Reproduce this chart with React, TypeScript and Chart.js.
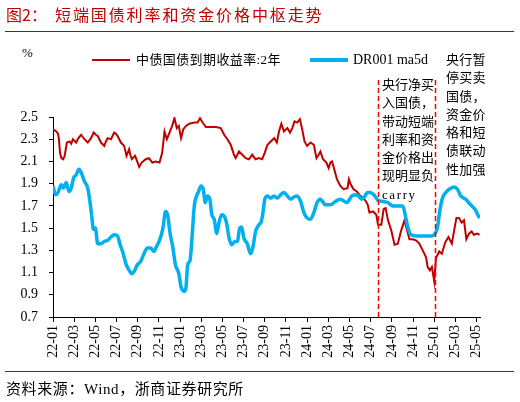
import React, { useEffect, useRef } from 'react';
import { Chart, registerables } from 'chart.js';

Chart.register(...registerables);

// x positions are months since 2022-01 (0 = 22-01)
const xTickLabels = ['22-01','22-03','22-05','22-07','22-09','22-11','23-01','23-03','23-05','23-07','23-09','23-11','24-01','24-03','24-05','24-07','24-09','24-11','25-01','25-03','25-05'];
const yTickValues = [0.7, 0.9, 1.1, 1.3, 1.5, 1.7, 1.9, 2.1, 2.3, 2.5];

const redMonths = [0.00,0.31,0.47,0.56,0.66,0.79,0.95,1.10,1.31,1.56,1.72,1.88,2.19,2.40,2.66,2.97,3.28,3.59,3.84,4.05,4.22,4.53,4.84,5.00,5.16,5.47,5.78,5.93,6.09,6.41,6.72,6.94,7.19,7.30,7.44,7.75,7.95,8.14,8.38,8.75,9.06,9.38,9.69,10.06,10.31,10.53,10.75,11.00,11.25,11.47,11.69,11.88,12.09,12.31,12.56,12.88,13.34,13.66,13.88,14.13,14.44,14.91,15.38,15.84,16.16,16.47,16.78,17.09,17.25,17.56,17.88,18.19,18.50,18.81,19.13,19.44,19.75,20.00,20.25,20.56,20.88,21.13,21.34,21.56,21.81,22.13,22.38,22.59,22.81,23.06,23.31,23.53,23.75,24.00,24.31,24.63,24.88,25.09,25.25,25.50,25.81,26.03,26.19,26.34,26.56,26.81,27.13,27.44,27.81,27.94,28.13,28.38,28.69,29.00,29.31,29.56,29.72,29.88,30.22,30.53,30.69,31.00,31.22,31.41,31.63,31.94,32.25,32.56,32.88,33.19,33.41,33.66,33.97,34.28,34.59,34.91,35.22,35.38,35.59,35.78,36.00,36.16,36.47,36.72,37.03,37.34,37.66,37.88,38.09,38.34,38.59,38.81,39.03,39.28,39.53,39.75,40.06,40.28];
const redValues = [2.39,2.37,2.35,2.30,2.18,2.13,2.12,2.15,2.27,2.28,2.26,2.30,2.27,2.31,2.34,2.30,2.27,2.31,2.36,2.34,2.33,2.27,2.24,2.28,2.31,2.30,2.36,2.35,2.33,2.27,2.24,2.15,2.21,2.16,2.12,2.15,2.10,2.05,2.09,2.12,2.13,2.09,2.10,2.09,2.18,2.37,2.30,2.36,2.42,2.49,2.40,2.42,2.31,2.39,2.42,2.44,2.45,2.45,2.49,2.45,2.41,2.41,2.41,2.40,2.34,2.30,2.25,2.16,2.13,2.19,2.16,2.13,2.12,2.16,2.12,2.13,2.12,2.18,2.25,2.28,2.31,2.27,2.37,2.44,2.37,2.40,2.36,2.40,2.46,2.45,2.48,2.39,2.28,2.24,2.27,2.25,2.13,2.16,2.19,2.12,2.09,2.04,2.09,2.10,2.03,1.94,1.88,1.85,1.86,1.94,1.89,1.85,1.83,1.79,1.77,1.74,1.71,1.64,1.65,1.62,1.53,1.53,1.67,1.68,1.57,1.48,1.35,1.36,1.48,1.57,1.49,1.40,1.40,1.39,1.36,1.30,1.24,1.15,1.12,1.15,1.02,1.23,1.29,1.27,1.37,1.42,1.36,1.48,1.59,1.59,1.55,1.57,1.40,1.45,1.47,1.44,1.45,1.44];

const blueMonths = [0.00,0.25,0.47,0.78,0.97,1.25,1.50,1.72,1.94,2.19,2.44,2.66,2.97,3.28,3.50,3.69,3.81,4.00,4.22,4.53,4.84,5.16,5.47,5.78,6.09,6.31,6.63,6.88,7.19,7.44,7.66,7.97,8.28,8.59,8.91,9.22,9.53,9.75,10.06,10.38,10.63,10.84,11.06,11.31,11.56,11.88,12.09,12.25,12.41,12.56,12.72,12.94,13.13,13.34,13.56,13.75,13.97,14.19,14.38,14.59,14.81,15.00,15.22,15.47,15.69,15.94,16.16,16.38,16.63,16.88,17.19,17.41,17.63,17.81,18.03,18.34,18.66,18.88,19.13,19.44,19.63,19.78,20.00,20.25,20.56,20.88,21.19,21.50,21.81,22.13,22.44,22.75,23.06,23.38,23.69,24.00,24.31,24.63,24.94,25.25,25.72,26.19,26.66,27.13,27.75,28.22,28.69,29.16,29.47,29.69,29.94,30.38,30.69,31.16,31.63,32.09,32.56,33.03,33.28,33.50,33.81,34.28,34.75,35.22,35.69,36.00,36.31,36.53,36.78,37.09,37.41,37.88,38.19,38.50,38.97,39.44,39.75,39.91,40.16,40.28];
const blueValues = [1.88,1.80,1.82,1.89,1.86,1.91,1.83,1.86,1.95,1.98,2.03,2.00,1.92,1.86,1.73,1.58,1.49,1.50,1.36,1.36,1.38,1.39,1.42,1.44,1.43,1.36,1.27,1.18,1.12,1.09,1.11,1.17,1.20,1.27,1.32,1.32,1.29,1.33,1.39,1.50,1.65,1.61,1.45,1.33,1.17,1.09,0.97,0.94,0.93,0.97,1.17,1.21,1.42,1.70,1.79,1.83,1.88,1.85,1.73,1.79,1.76,1.62,1.58,1.45,1.56,1.62,1.61,1.55,1.41,1.35,1.38,1.38,1.50,1.51,1.41,1.36,1.27,1.33,1.47,1.53,1.55,1.61,1.76,1.79,1.77,1.79,1.77,1.80,1.82,1.79,1.76,1.78,1.79,1.74,1.64,1.59,1.58,1.64,1.73,1.76,1.71,1.71,1.74,1.76,1.73,1.79,1.80,1.76,1.79,1.82,1.82,1.79,1.75,1.74,1.73,1.70,1.70,1.70,1.61,1.51,1.44,1.43,1.43,1.43,1.43,1.44,1.51,1.66,1.77,1.82,1.85,1.87,1.85,1.79,1.76,1.71,1.68,1.66,1.61,1.59];

// event markers (months since 22-01)
const eventMonths = [30.7, 36.1];

const redName = '中债国债到期收益率:2年';
const blueName = 'DR001 ma5d';
const noteMiddle = ['央行净买', '入国债，', '带动短端', '利率和资', '金价格出', '现明显负', 'carry'];
const noteRight = ['央行暂', '停买卖', '国债，', '资金价', '格和短', '债联动', '性加强'];

const FONT = '"Liberation Serif", "Noto Sans CJK SC", serif';

const eventLinesPlugin = {
  id: 'eventLines',
  afterDatasetsDraw(chart: any) {
    const { ctx, chartArea } = chart;
    const x = chart.scales.x;
    ctx.save();
    ctx.strokeStyle = '#FF0000';
    ctx.lineWidth = 1.5;
    ctx.setLineDash([5, 3]);
    eventMonths.forEach((m) => {
      const px = Math.round(x.getPixelForValue(m)) + 0.5;
      ctx.beginPath();
      ctx.moveTo(px, chartArea.top - 37);
      ctx.lineTo(px, chartArea.bottom);
      ctx.stroke();
    });
    ctx.restore();
  },
};

function LineChart() {
  const ref = useRef<HTMLCanvasElement | null>(null);
  useEffect(() => {
    if (!ref.current) return;
    const red = redMonths.map((m, i) => ({ x: m, y: redValues[i] }));
    const blue = blueMonths.map((m, i) => ({ x: m, y: blueValues[i] }));
    const tickFont = { family: '"Liberation Serif", serif', size: 14 };
    const chart = new Chart(ref.current, {
      type: 'line',
      data: {
        datasets: [
          { label: redName, data: red, borderColor: '#C00000', backgroundColor: '#C00000', borderWidth: 2, pointRadius: 0, tension: 0, order: 1 },
          { label: blueName, data: blue, borderColor: '#00B0F0', backgroundColor: '#00B0F0', borderWidth: 3.5, pointRadius: 0, cubicInterpolationMode: 'monotone', order: 0 },
        ],
      } as any,
      options: {
        animation: false,
        responsive: false,
        maintainAspectRatio: false,
        layout: { padding: { left: 0, top: 117, right: 40, bottom: 0 } },
        plugins: { legend: { display: false }, tooltip: { enabled: false } },
        scales: {
          x: {
            type: 'linear',
            min: 0,
            max: 40.32,
            afterBuildTicks: (s: any) => { s.ticks = xTickLabels.map((_, i) => ({ value: i * 2 })); },
            afterFit: (s: any) => { s.height = 85; s.paddingLeft = 0; s.paddingRight = 0; },
            ticks: {
              autoSkip: false,
              maxRotation: 90,
              minRotation: 90,
              padding: 3,
              color: '#000',
              font: tickFont,
              callback: (_v: any, i: number) => xTickLabels[i],
            },
            grid: { drawOnChartArea: false, drawTicks: true, tickLength: 5, color: '#000', lineWidth: 1 },
            border: { display: true, color: '#000', width: 1 },
          },
          y: {
            type: 'linear',
            min: 0.7,
            max: 2.5,
            afterBuildTicks: (s: any) => { s.ticks = yTickValues.map((v) => ({ value: v })); },
            afterFit: (s: any) => { s.width = 53; s.paddingTop = 0; s.paddingBottom = 0; },
            ticks: {
              padding: 11,
              color: '#000',
              font: tickFont,
              callback: (v: any) => Number(v).toFixed(1),
            },
            grid: { drawOnChartArea: false, drawTicks: true, tickLength: 4, color: '#000', lineWidth: 1 },
            border: { display: true, color: '#000', width: 1 },
          },
        },
      } as any,
      plugins: [eventLinesPlugin],
    });
    return () => chart.destroy();
  }, []);
  return <canvas ref={ref} width={520} height={402} style={{ position: 'absolute', left: 0, top: 0, width: 520, height: 402 }} />;
}

export default function App() {
  const txt: React.CSSProperties = { position: 'absolute', fontFamily: FONT, color: '#000', whiteSpace: 'nowrap' };
  return (
    <div style={{ position: 'fixed', left: 0, top: 0, width: 520, height: 402, background: '#fff', overflow: 'hidden' }}>
      <LineChart />
      <div style={{ ...txt, left: 6, top: 4, fontSize: 16, lineHeight: '20px', color: '#C00000', fontFamily: '"Noto Sans CJK SC", sans-serif' }}>图2：</div>
      <div style={{ ...txt, left: 55, top: 4, fontSize: 16, lineHeight: '20px', color: '#C00000', letterSpacing: '1.9px', fontFamily: '"Noto Sans CJK SC", sans-serif' }}>短端国债利率和资金价格中枢走势</div>
      <div style={{ position: 'absolute', left: 5, top: 31, width: 509, height: 1, background: '#C00000' }} />
      <div style={{ ...txt, left: 22, top: 45, fontSize: 13, lineHeight: '16px' }}>%</div>
      <div style={{ position: 'absolute', left: 92, top: 59, width: 38, height: 2, background: '#C00000' }} />
      <div style={{ ...txt, left: 136, top: 51, fontSize: 13, lineHeight: '18px', letterSpacing: '0.4px' }}>{redName}</div>
      <div style={{ position: 'absolute', left: 310, top: 58, width: 38, height: 4, background: '#00B0F0' }} />
      <div style={{ ...txt, left: 353, top: 51, fontSize: 14, lineHeight: '18px' }}>{blueName}</div>
      <div style={{ ...txt, left: 382, top: 76, fontSize: 13, lineHeight: '18.3px' }}>
        {noteMiddle.map((l, i) => (
          <div key={i} style={l === 'carry' ? { letterSpacing: '1.6px' } : undefined}>{l}</div>
        ))}
      </div>
      <div style={{ ...txt, left: 446, top: 51, fontSize: 13, lineHeight: '18.3px', letterSpacing: '0.3px' }}>
        {noteRight.map((l, i) => (<div key={i}>{l}</div>))}
      </div>
      <div style={{ position: 'absolute', left: 5, top: 371, width: 509, height: 1, background: '#C00000' }} />
      <div style={{ ...txt, left: 6, top: 380, fontSize: 15, lineHeight: '18px', letterSpacing: '0.6px' }}>资料来源：Wind，浙商证券研究所</div>
    </div>
  );
}
